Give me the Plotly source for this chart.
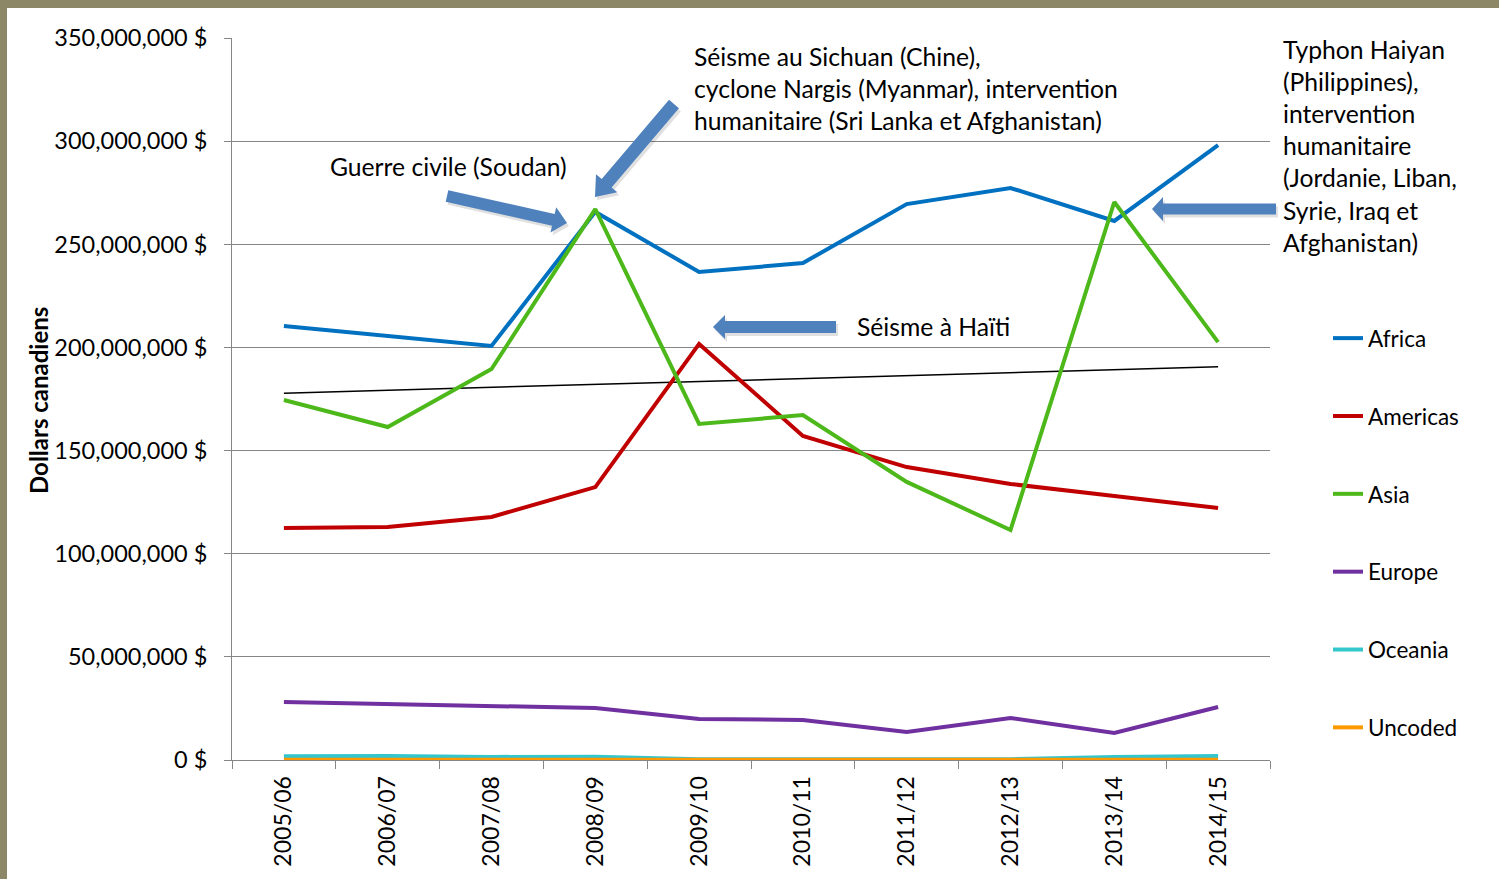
import numpy as np
import plotly.graph_objects as go

years = ["2005/06", "2006/07", "2007/08", "2008/09", "2009/10",
         "2010/11", "2011/12", "2012/13", "2013/14", "2014/15"]

africa = [210.4e6, 205.5e6, 200.7e6, 265.7e6, 236.6e6, 240.9e6, 269.5e6, 277.3e6, 261.3e6, 298.1e6]
americas = [112.5e6, 113.0e6, 117.8e6, 132.3e6, 201.7e6, 157.1e6, 142.0e6, 133.8e6, 128.0e6, 122.2e6]
asia = [174.5e6, 161.4e6, 189.5e6, 267.1e6, 162.9e6, 167.2e6, 134.8e6, 111.5e6, 270.5e6, 202.6e6]
europe = [28.1e6, 27.1e6, 26.2e6, 25.2e6, 19.9e6, 19.4e6, 13.6e6, 20.4e6, 13.1e6, 25.7e6]
oceania = [1.8e6, 1.9e6, 1.5e6, 1.6e6, 0.4e6, 0.3e6, 0.3e6, 0.4e6, 1.5e6, 1.9e6]
uncoded = [0.1e6, 0.1e6, 0.1e6, 0.1e6, 0.1e6, 0.1e6, 0.1e6, 0.1e6, 0.1e6, 0.1e6]

series_names = ["Africa", "Americas", "Asia", "Europe", "Oceania", "Uncoded"]
series_values = [africa, americas, asia, europe, oceania, uncoded]
series_colors = ["#0070C0", "#C00000", "#4CB81A", "#7030A0", "#33C6CC", "#FF9900"]

y_tick_vals = [0, 50e6, 100e6, 150e6, 200e6, 250e6, 300e6, 350e6]
y_tick_text = ["0 $", "50,000,000 $", "100,000,000 $", "150,000,000 $",
               "200,000,000 $", "250,000,000 $", "300,000,000 $", "350,000,000 $"]

W, H = 1499, 879
L, R, T, B = 232, 1270, 38, 760
FONT = "Lato"


def px(x):
    return (x - L) / (R - L)


def py(y):
    return (B - y) / (B - T)


fig = go.Figure()

# linear trend of Asia (Excel-style trendline)
xi = np.arange(1, len(years) + 1)
slope, intercept = np.polyfit(xi, asia, 1)
trend = slope * xi + intercept
fig.add_trace(go.Scatter(x=years, y=trend, mode="lines",
                         line=dict(color="black", width=1.5),
                         showlegend=False, hoverinfo="skip"))

for name, vals, col in zip(series_names, series_values, series_colors):
    fig.add_trace(go.Scatter(x=years, y=vals, mode="lines", name=name,
                             legendgroup=name,
                             line=dict(color=col, width=4)))


def arrow_path(x0, y0, x1, y1, sw, hw, hl, dx=0, dy=0):
    x0 += dx; y0 += dy; x1 += dx; y1 += dy
    vx, vy = x1 - x0, y1 - y0
    ln = (vx ** 2 + vy ** 2) ** 0.5
    ux, uy = vx / ln, vy / ln
    nx, ny = -uy, ux
    bx, by = x1 - ux * hl, y1 - uy * hl
    pts = [
        (x0 + nx * sw / 2, y0 + ny * sw / 2),
        (bx + nx * sw / 2, by + ny * sw / 2),
        (bx + nx * hw / 2, by + ny * hw / 2),
        (x1, y1),
        (bx - nx * hw / 2, by - ny * hw / 2),
        (bx - nx * sw / 2, by - ny * sw / 2),
        (x0 - nx * sw / 2, y0 - ny * sw / 2),
    ]
    s = "M " + " L ".join(f"{px(a):.5f},{py(b):.5f}" for a, b in pts) + " Z"
    return s


arrows = [
    (447, 196, 567, 223, 12, 26, 14),
    (674, 104, 595, 197, 13, 28, 18),
    (836, 327, 713, 327, 12, 24, 12),
    (1276, 209, 1152, 209, 11, 24, 11),
]
shapes = []
for a in arrows:
    shapes.append(dict(type="path", xref="paper", yref="paper",
                       path=arrow_path(*a, dx=2, dy=3),
                       fillcolor="rgba(0,0,0,0.12)", line=dict(width=0), layer="above"))
    shapes.append(dict(type="path", xref="paper", yref="paper",
                       path=arrow_path(*a),
                       fillcolor="#4F81BD", line=dict(width=0), layer="above"))

# frame bands
frame_col = "#8C8767"
shapes.append(dict(type="rect", xref="paper", yref="paper",
                   x0=px(0), x1=px(W), y0=py(8), y1=py(0),
                   fillcolor=frame_col, line=dict(width=0)))
shapes.append(dict(type="rect", xref="paper", yref="paper",
                   x0=px(0), x1=px(7), y0=py(H), y1=py(0),
                   fillcolor=frame_col, line=dict(width=0)))

tf = dict(family=FONT, size=24.7, color="black")
annotations = [
    dict(text="Guerre civile (Soudan)", x=px(329), y=py(166)),
    dict(text="Séisme au Sichuan (Chine),<br>cyclone Nargis (Myanmar), intervention<br>humanitaire (Sri Lanka et Afghanistan)",
         x=px(693), y=py(88)),
    dict(text="Séisme à Haïti", x=px(856), y=py(327)),
    dict(text="Typhon Haiyan<br>(Philippines),<br>intervention<br>humanitaire<br>(Jordanie, Liban,<br>Syrie, Iraq et<br>Afghanistan)",
         x=px(1282), y=py(146)),
]
for a in annotations:
    a.update(xref="paper", yref="paper", xanchor="left", yanchor="middle",
             align="left", showarrow=False, font=tf, borderpad=0)

# y-axis title
annotations.append(dict(text="<b>Dollars canadiens</b>", xref="paper", yref="paper",
                        x=px(38), y=py(401), xanchor="center", yanchor="middle",
                        textangle=-90, showarrow=False, borderpad=0,
                        font=dict(family=FONT, size=24, color="black")))

fig.update_layout(
    width=W, height=H,
    margin=dict(l=L, r=W - R, t=T, b=H - B, autoexpand=False),
    paper_bgcolor="white", plot_bgcolor="white",
    font=dict(family=FONT, size=22, color="black"),
    shapes=shapes,
    annotations=annotations,
    showlegend=True,
    legend=dict(x=px(1328), xanchor="left", y=py(317), yanchor="top",
                traceorder="grouped", tracegroupgap=45.6,
                font=dict(family=FONT, size=22.5, color="black"),
                bgcolor="rgba(0,0,0,0)"),
    xaxis=dict(type="category", showgrid=False, showline=True, linecolor="#868686",
               linewidth=1, ticks="outside", tickson="boundaries", ticklen=8,
               tickcolor="#868686", tickangle=-90,
               tickfont=dict(family=FONT, size=23, color="black"),
               ticklabelstandoff=6, range=[-0.5, 9.5]),
    yaxis=dict(range=[0, 350e6], tickvals=y_tick_vals, ticktext=y_tick_text,
               showgrid=True, gridcolor="#868686",
               gridwidth=1, showline=True, linecolor="#868686", linewidth=1,
               ticks="outside", ticklen=7, tickcolor="#868686", zeroline=False,
               tickfont=dict(family=FONT, size=23.5, color="black"),
               ticklabelstandoff=12),
)

fig.write_html("out.html", config={"displayModeBar": False},
               post_script="document.body.style.margin='0';document.body.style.padding='0';")
